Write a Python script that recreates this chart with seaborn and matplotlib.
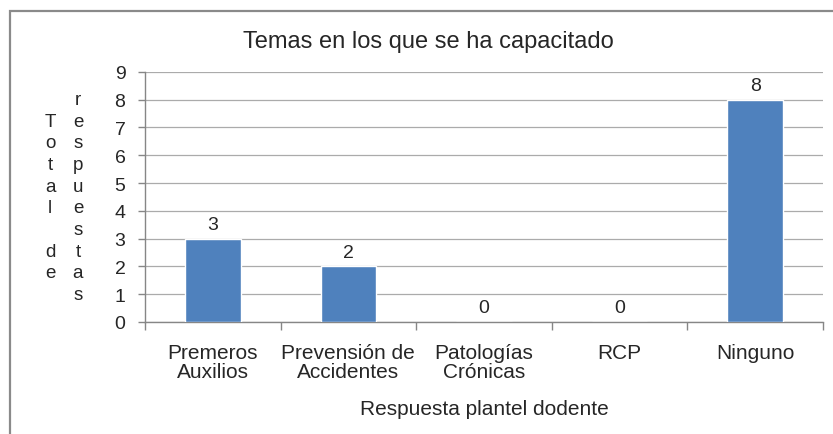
import matplotlib
matplotlib.use("Agg")
import matplotlib.pyplot as plt
import seaborn as sns
import pandas as pd
from matplotlib.patches import Rectangle
from matplotlib.ticker import FixedLocator

categorias = ["Premeros\nAuxilios", "Prevensión de\nAccidentes", "Patologías\nCrónicas", "RCP", "Ninguno"]
respuestas = [3, 2, 0, 0, 8]
titulo = "Temas en los que se ha capacitado"
eje_x = "Respuesta plantel dodente"
eje_y = ["Total de", "respuestas"]

sns.set_style("white")
plt.rcParams["font.family"] = ["Liberation Sans", "DejaVu Sans"]

df = pd.DataFrame({"Tema": categorias, "Total": respuestas})

fig = plt.figure(figsize=(8.33, 4.35), dpi=100)
ax = fig.add_axes([0.174, 0.2575, 0.814, 0.575])

sns.barplot(data=df, x="Tema", y="Total", color="#4F81BD", width=0.41,
            saturation=1, ax=ax, zorder=3)

ax.set_xlim(-0.5, 4.5)
ax.set_ylim(0, 9)
ax.set_yticks(range(0, 10))
ax.yaxis.grid(True, color="#ababab", lw=0.9, zorder=0)
ax.xaxis.grid(False)

for s in ["top", "right"]:
    ax.spines[s].set_visible(False)
for s in ["left", "bottom"]:
    ax.spines[s].set_color("#868686")
    ax.spines[s].set_linewidth(1)

ax.tick_params(axis="y", length=5, width=1, color="#868686", direction="out",
               labelsize=14, pad=9, left=True)
ax.tick_params(axis="x", which="major", length=0, labelsize=15, pad=15)
ax.xaxis.set_minor_locator(FixedLocator([-0.5, 0.5, 1.5, 2.5, 3.5, 4.5]))
ax.tick_params(axis="x", which="minor", length=6, width=1, color="#868686",
               direction="out", bottom=True)
for lab in ax.get_xticklabels():
    lab.set_linespacing(1.0)

for c in ax.containers:
    ax.bar_label(c, fmt="%g", padding=4, fontsize=14)

ax.set_xlabel(eje_x, fontsize=15, labelpad=13)
ax.set_ylabel("")
fig.text(0.514, 0.904, titulo, fontsize=17, ha="center", va="center")

# etiqueta vertical apilada en dos columnas
ax.text(-0.140, 0.5, "\n".join(eje_y[0]), transform=ax.transAxes,
        ha="center", va="center", fontsize=13.5, linespacing=1.36)
ax.text(-0.0988, 0.5, "\n".join(eje_y[1]), transform=ax.transAxes,
        ha="center", va="center", fontsize=13.5, linespacing=1.36)

# marco del grafico
fig.patches.append(Rectangle((10 / 833, -0.5), 2, 0.9724 + 0.5,
                             transform=fig.transFigure, fill=False,
                             edgecolor="#8a8a8a", lw=1.6))

fig.savefig("out.png", dpi=100)
